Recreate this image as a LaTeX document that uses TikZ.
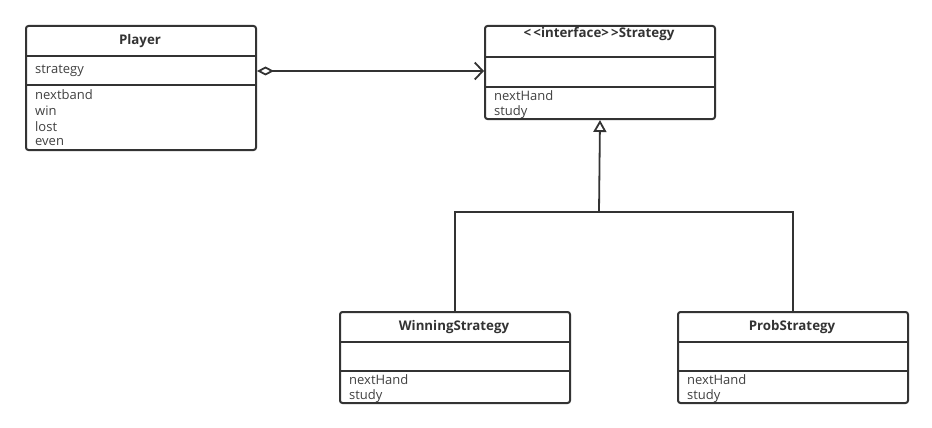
\documentclass[tikz,border=0pt]{standalone}
\usepackage{fontspec}
\setmainfont{Open Sans}
\usetikzlibrary{arrows.meta}
\definecolor{linegray}{HTML}{333333}
\definecolor{txtgray}{HTML}{404040}
\tikzset{
  classbox/.style={draw=linegray, line width=2pt, rounded corners=2.5pt, minimum width=230pt, inner sep=0pt, anchor=north west},
  classline/.style={draw=linegray, line width=1.8pt},
  classname/.style={font=\fontsize{13.3}{15}\selectfont\bfseries, text=linegray, inner sep=0pt},
  member/.style={anchor=west, inner sep=0pt},
  aggr/.style={classline, {Diamond[open,length=17pt,width=9pt]}-{Straight Barb[length=8pt,width=17pt]}},
  inherit/.style={classline, -{Triangle[open,length=12pt,width=13pt]}}
}
\begin{document}
\begin{tikzpicture}[x=1pt, y=-1pt, font=\fontsize{13}{15}\selectfont, text=txtgray]
\useasboundingbox (0,0) rectangle (932,428);
% Player class
\node[classbox, minimum height=124pt] (player) at (25,25) {};
\node[classname] at (140,41) {Player};
\draw[classline] (25,56) -- (255,56);
\draw[classline] (25,85) -- (255,85);
\node[member] (pattr) at (35,71) {strategy};
\node[member] at (35,95) {nextband};
\node[member] at (35,111) {win};
\node[member] at (35,127) {lost};
\node[member] at (35,142) {even};

% Strategy interface
\node[classbox, minimum height=93pt] (strategy) at (484,25) {};
\node[classname] at (599,34) {<{}\,<interface>{}\,>Strategy};
\draw[classline] (484,57) -- (714,57);
\draw[classline] (484,87) -- (714,87);
\node[member] at (494,96) {nextHand};
\node[member] at (494,112) {study};

% WinningStrategy class
\node[classbox, minimum height=91pt] (win) at (339,311) {};
\node[classname] at (454,327) {WinningStrategy};
\draw[classline] (339,342) -- (569,342);
\draw[classline] (339,371) -- (569,371);
\node[member] at (349,380) {nextHand};
\node[member] at (349,396) {study};

% ProbStrategy class
\node[classbox, minimum height=91pt] (prob) at (677,311) {};
\node[classname] at (792,327) {ProbStrategy};
\draw[classline] (677,342) -- (907,342);
\draw[classline] (677,371) -- (907,371);
\node[member] at (687,380) {nextHand};
\node[member] at (687,396) {study};

% Aggregation
\draw[aggr] (player.east |- pattr) -- (strategy.west |- pattr);

% Realization tree
\coordinate (junction) at (599,212);
\draw[classline] (win.north) |- (junction) -| (prob.north);
\draw[inherit] (junction) -- (strategy.south);
\end{tikzpicture}
\end{document}
